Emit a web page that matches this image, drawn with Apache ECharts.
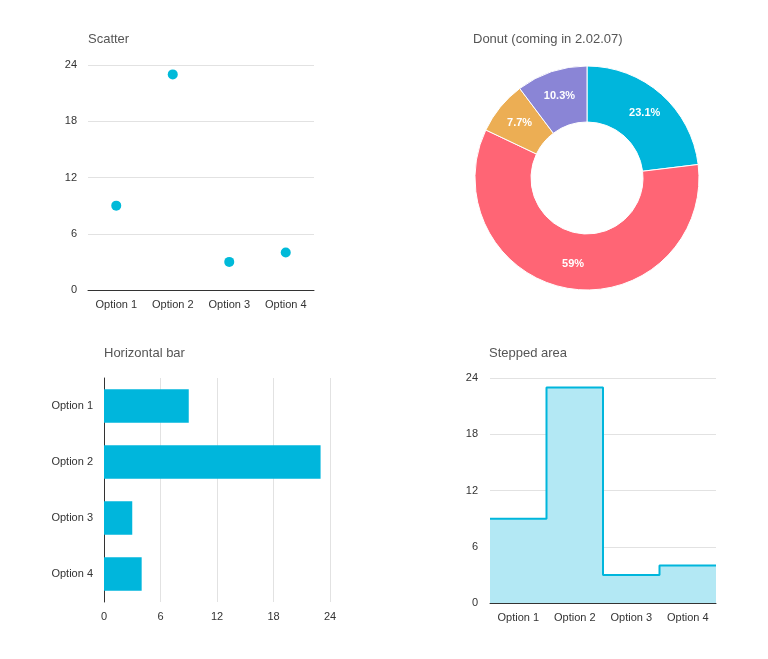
<!DOCTYPE html>
<html>
<head>
<meta charset="utf-8">
<script src="https://cdn.jsdelivr.net/npm/echarts@6/dist/echarts.min.js"></script>
<style>
html,body{margin:0;padding:0;background:#fff;}
#c{width:768px;height:659px;}
</style>
</head>
<body>
<div id="c"></div>
<script>
const categories = ['Option 1', 'Option 2', 'Option 3', 'Option 4'];
const values = [9, 23, 3, 4];
const valueTicks = [0, 6, 12, 18, 24];
const pieColors = ['#00b6dc', '#ff6575', '#ecae54', '#8a85d6'];
const titles = ['Scatter', 'Donut (coming in 2.02.07)', 'Horizontal bar', 'Stepped area'];

const FONT = '"Liberation Sans", Arial, sans-serif';
const CYAN = '#00b6dc';
const labelStyle = { color: '#333', fontSize: 11, fontFamily: FONT };
const gridLine = { show: true, lineStyle: { color: '#e2e2e2', width: 1 } };
const vmax = valueTicks[valueTicks.length - 1];
const vint = valueTicks[1] - valueTicks[0];

// stepped points: each value spans its category band
const stepPts = values.map((v, i) => [i, v]).concat([[values.length, values[values.length - 1]]]);
const total = values.reduce((a, b) => a + b, 0);

const chart = echarts.init(document.getElementById('c'), null, { renderer: 'canvas' });
chart.setOption({
  animation: false,
  backgroundColor: '#fff',
  title: [
    { text: titles[0], left: 88, top: 33 },
    { text: titles[1], left: 473, top: 33 },
    { text: titles[2], left: 104, top: 347 },
    { text: titles[3], left: 489, top: 347 }
  ].map(t => Object.assign(t, { padding: 0, textStyle: { color: '#555', fontSize: 13, fontWeight: 'normal', fontFamily: FONT } })),
  grid: [
    { left: 88, top: 65, width: 226, height: 225 },
    { left: 104, top: 378, width: 226, height: 224 },
    { left: 490, top: 378, width: 226, height: 225 }
  ],
  xAxis: [
    { gridIndex: 0, type: 'category', data: categories, boundaryGap: true,
      axisLine: { lineStyle: { color: '#333' } }, axisTick: { show: false },
      axisLabel: Object.assign({ margin: 9 }, labelStyle), splitLine: { show: false } },
    { gridIndex: 1, type: 'value', min: 0, max: vmax, interval: vint,
      axisLine: { show: false }, axisTick: { show: false },
      axisLabel: Object.assign({ margin: 9 }, labelStyle), splitLine: gridLine },
    { gridIndex: 2, type: 'category', data: categories, boundaryGap: true,
      axisLine: { lineStyle: { color: '#333' } }, axisTick: { show: false },
      axisLabel: Object.assign({ margin: 9 }, labelStyle), splitLine: { show: false } },
    { gridIndex: 2, type: 'value', min: 0, max: categories.length, show: false, position: 'top' }
  ],
  yAxis: [
    { gridIndex: 0, type: 'value', min: 0, max: vmax, interval: vint,
      axisLine: { show: false }, axisTick: { show: false },
      axisLabel: Object.assign({ margin: 11 }, labelStyle), splitLine: gridLine },
    { gridIndex: 1, type: 'category', data: categories, inverse: true,
      axisLine: { lineStyle: { color: '#333' } }, axisTick: { show: false },
      axisLabel: Object.assign({ margin: 11 }, labelStyle) },
    { gridIndex: 2, type: 'value', min: 0, max: vmax, interval: vint,
      axisLine: { show: false }, axisTick: { show: false },
      axisLabel: Object.assign({ margin: 12 }, labelStyle), splitLine: gridLine }
  ],
  series: [
    { type: 'scatter', xAxisIndex: 0, yAxisIndex: 0, data: values, symbolSize: 10,
      itemStyle: { color: '#00bad9', opacity: 1 } },
    { type: 'pie', center: [587, 178], radius: [56, 112], startAngle: 90, clockwise: true,
      data: categories.map((c, i) => ({ name: c, value: values[i], itemStyle: { color: pieColors[i] } })),
      itemStyle: { borderColor: '#fff', borderWidth: 1 },
      label: { show: true, position: 'inside', color: '#fff', fontSize: 11, fontWeight: 'bold', fontFamily: FONT,
        formatter: p => { const pct = Math.round(p.value / total * 1000) / 10; return pct + '%'; } },
      labelLine: { show: false } },
    { type: 'bar', xAxisIndex: 1, yAxisIndex: 1, data: values, barCategoryGap: '40%',
      itemStyle: { color: CYAN } },
    { type: 'line', xAxisIndex: 3, yAxisIndex: 2, data: stepPts, step: 'end', symbol: 'none',
      lineStyle: { color: CYAN, width: 2 }, areaStyle: { color: '#b3e8f4', opacity: 1 } }
  ]
});
</script>
</body>
</html>
